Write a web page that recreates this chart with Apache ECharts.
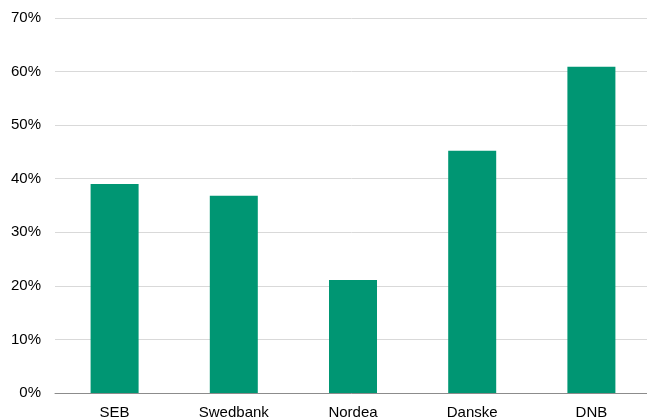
<!DOCTYPE html>
<html>
<head>
<meta charset="utf-8">
<script src="https://cdn.jsdelivr.net/npm/echarts@6/dist/echarts.min.js"></script>
<style>
  html, body { margin: 0; padding: 0; background: #fff; }
  #chart { width: 647px; height: 419px; }
</style>
</head>
<body>
<div id="chart"></div>
<script>
// banks and share values (%)
var banks = ['SEB', 'Swedbank', 'Nordea', 'Danske', 'DNB'];
var shares = [39.0, 36.8, 21.1, 45.2, 60.9];

var chart = echarts.init(document.getElementById('chart'));
chart.setOption({
  animation: false,
  grid: { left: 55, top: 18, width: 596, height: 375, containLabel: false, outerBoundsMode: 'none' },
  xAxis: {
    type: 'category',
    data: banks,
    axisTick: { show: false },
    axisLine: { lineStyle: { color: '#8c8c8c', width: 1 } },
    axisLabel: { color: '#000', fontFamily: 'Liberation Sans, Arial', fontSize: 15, margin: 12 }
  },
  yAxis: {
    type: 'value',
    min: 0,
    max: 70,
    interval: 10,
    axisLabel: {
      formatter: '{value}%',
      color: '#000',
      fontFamily: 'Liberation Sans, Arial',
      fontSize: 15,
      margin: 14
    },
    splitLine: { lineStyle: { color: '#d9d9d9', width: 1 } }
  },
  series: [{
    type: 'bar',
    data: shares,
    barWidth: 48,
    itemStyle: { color: '#009673' }
  }]
});
</script>
</body>
</html>
